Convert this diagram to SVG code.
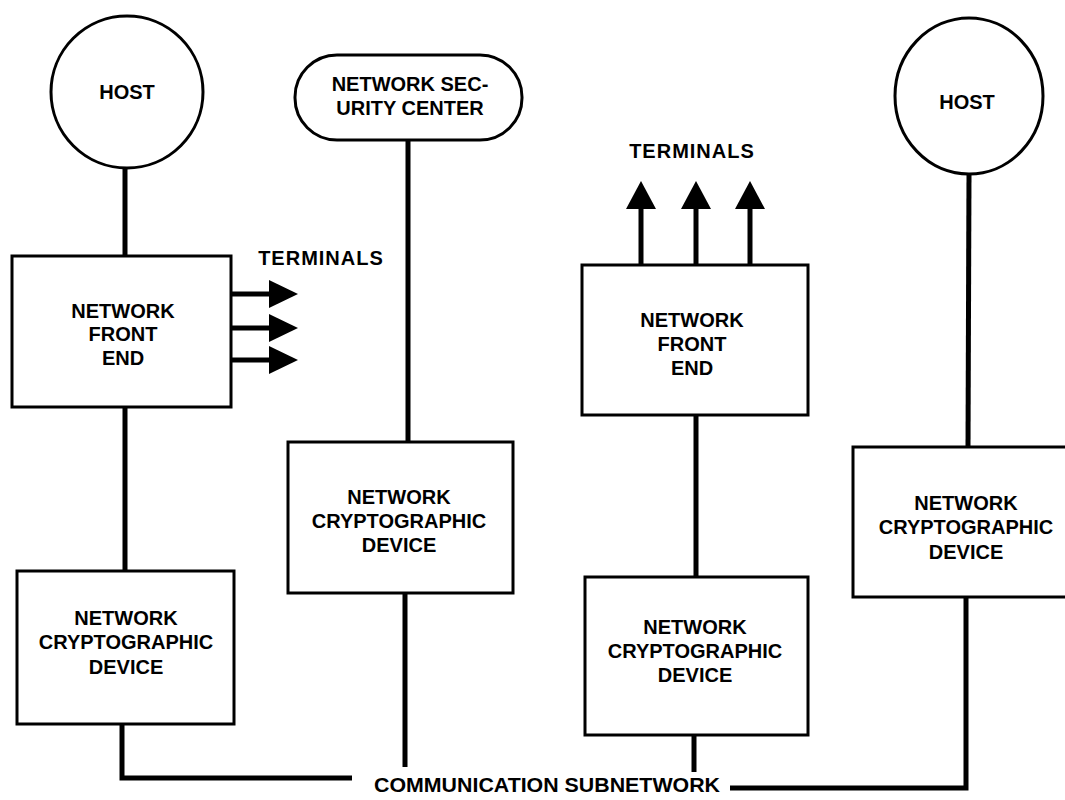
<svg xmlns="http://www.w3.org/2000/svg" width="1065" height="800" viewBox="0 0 1065 800">
<defs>
<style>
.shape{fill:#fff;stroke:#000;stroke-width:3}
.ln{fill:none;stroke:#000;stroke-width:5}
.t{font-family:"Liberation Sans",Arial,sans-serif;font-weight:bold;font-size:20px;fill:#000;text-anchor:middle;dominant-baseline:central}
.head{fill:#000}
</style>
</defs>
<rect width="1065" height="800" fill="#fff"/>
<g id="connectors">
<line class="ln" x1="125" y1="168" x2="125" y2="256"/>
<line class="ln" x1="125" y1="407" x2="125" y2="571"/>
<polyline class="ln" points="122,723 122,778 352,778"/>
<line class="ln" x1="408" y1="140" x2="408" y2="442"/>
<line class="ln" x1="405" y1="593" x2="405" y2="767"/>
<line class="ln" x1="696" y1="415" x2="696" y2="577"/>
<line class="ln" x1="694" y1="735" x2="694" y2="772"/>
<line class="ln" x1="969" y1="174" x2="968" y2="447"/>
<polyline class="ln" points="966,597 966,788 730,788"/>
<line class="ln" x1="231" y1="294" x2="272" y2="294"/>
<line class="ln" x1="231" y1="328" x2="272" y2="328"/>
<line class="ln" x1="231" y1="360" x2="272" y2="360"/>
<polygon class="head" points="269,280 298,294 269,308"/>
<polygon class="head" points="269,314 298,328 269,342"/>
<polygon class="head" points="269,346 298,360 269,374"/>
<line class="ln" x1="641" y1="265" x2="641" y2="205"/>
<line class="ln" x1="696" y1="265" x2="696" y2="205"/>
<line class="ln" x1="750" y1="265" x2="750" y2="205"/>
<polygon class="head" points="626,209 641,181 656,209"/>
<polygon class="head" points="681,209 696,181 711,209"/>
<polygon class="head" points="735,209 750,181 765,209"/>
</g>
<g id="host-left">
<circle class="shape" cx="127" cy="92" r="76"/>
<text class="t" x="127" y="92" font-size="19">HOST</text>
</g>
<g id="nsc">
<rect class="shape" x="295" y="55" width="227" height="85" rx="42" ry="42"/>
<text class="t" x="410" y="84">NETWORK SEC-</text>
<text class="t" x="410" y="108">URITY CENTER</text>
</g>
<g id="host-right">
<ellipse class="shape" cx="969" cy="96" rx="74" ry="78"/>
<text class="t" x="967" y="102" font-size="18">HOST</text>
</g>
<g id="nfe-left">
<rect class="shape" x="12" y="256" width="219" height="151"/>
<text class="t" x="123" y="311">NETWORK</text>
<text class="t" x="123" y="334">FRONT</text>
<text class="t" x="123" y="358">END</text>
</g>
<g id="terminals-left">
<text class="t" x="321" y="258" style="letter-spacing:1px">TERMINALS</text>
</g>
<g id="ncd-left">
<rect class="shape" x="17" y="571" width="217" height="153"/>
<text class="t" x="126" y="618">NETWORK</text>
<text class="t" x="126" y="642">CRYPTOGRAPHIC</text>
<text class="t" x="126" y="667">DEVICE</text>
</g>
<g id="ncd-middle">
<rect class="shape" x="288" y="442" width="225" height="151"/>
<text class="t" x="399" y="497">NETWORK</text>
<text class="t" x="399" y="521">CRYPTOGRAPHIC</text>
<text class="t" x="399" y="545">DEVICE</text>
</g>
<g id="terminals-right">
<text class="t" x="692" y="151" style="letter-spacing:1px">TERMINALS</text>
</g>
<g id="nfe-right">
<rect class="shape" x="582" y="265" width="226" height="150"/>
<text class="t" x="692" y="320">NETWORK</text>
<text class="t" x="692" y="344">FRONT</text>
<text class="t" x="692" y="368">END</text>
</g>
<g id="ncd-bottom-right">
<rect class="shape" x="585" y="577" width="223" height="158"/>
<text class="t" x="695" y="627">NETWORK</text>
<text class="t" x="695" y="651">CRYPTOGRAPHIC</text>
<text class="t" x="695" y="675">DEVICE</text>
</g>
<g id="ncd-far-right">
<rect class="shape" x="853" y="447" width="220" height="150"/>
<text class="t" x="966" y="503">NETWORK</text>
<text class="t" x="966" y="527">CRYPTOGRAPHIC</text>
<text class="t" x="966" y="552">DEVICE</text>
</g>
<g id="subnetwork">
<text class="t" x="547" y="785" font-size="19" textLength="346" lengthAdjust="spacingAndGlyphs">COMMUNICATION SUBNETWORK</text>
</g>
</svg>
